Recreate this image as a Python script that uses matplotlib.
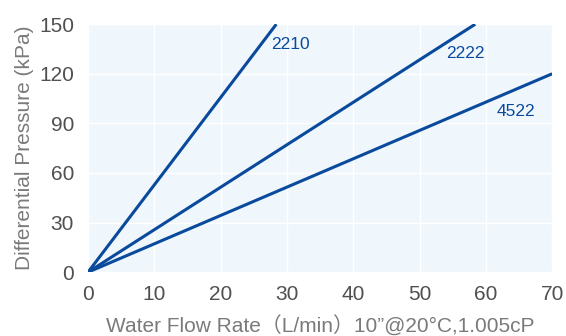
import matplotlib
matplotlib.use("Agg")
import matplotlib.pyplot as plt

# model names and their end points (flow L/min, pressure kPa), lines start at origin
models = ['2210', '2222', '4522']
end_flow = [28.4, 58.4, 70]
end_pressure = [150, 150, 120]
label_pos = [(27.6, 138), (54.0, 132), (61.7, 97)]

x_ticks = [0, 10, 20, 30, 40, 50, 60, 70]
y_ticks = [0, 30, 60, 90, 120, 150]

plt.rcParams['font.family'] = ['Liberation Sans', 'Noto Sans CJK SC', 'DejaVu Sans']

fig = plt.figure(figsize=(5.66, 3.36), dpi=100)
ax = fig.add_axes([0.1555, 0.19, 0.82, 0.738])
ax.set_facecolor('#eff7fc')

line_color = '#0a4a9c'
for name, fx, fy, (lx, ly) in zip(models, end_flow, end_pressure, label_pos):
    ax.plot([0, fx], [0, fy], color=line_color, lw=2.2, solid_capstyle='butt', zorder=3)
    ax.text(lx, ly, name, color=line_color, fontsize=12.5, va='center', ha='left')

ax.set_xlim(0, 70)
ax.set_ylim(0, 150)
ax.set_xticks(x_ticks)
ax.set_yticks(y_ticks)
ax.grid(True, color='white', lw=1)
ax.set_axisbelow(True)
for s in ax.spines.values():
    s.set_visible(False)
ax.tick_params(length=0, labelsize=15, colors='#505050')
ax.tick_params(axis='x', pad=9)
ax.tick_params(axis='y', pad=10)

ax.set_xlabel('Water Flow Rate（L/min）10”@20°C,1.005cP', fontsize=15, color='#7a7a7a', va='center')
ax.set_ylabel('Differential Pressure (kPa)', fontsize=15, color='#7a7a7a', va='center')
ax.xaxis.set_label_coords(0.5, -0.217)
ax.yaxis.set_label_coords(-0.136, 0.5)

fig.savefig('out.png', dpi=100)
